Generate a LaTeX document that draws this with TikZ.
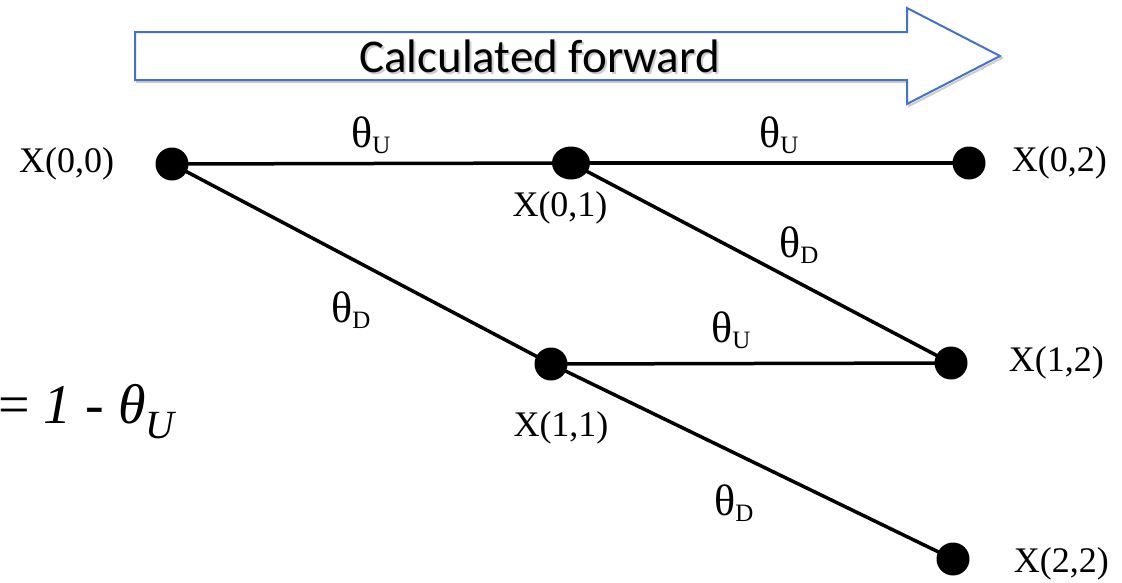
\documentclass[tikz,border=0pt]{standalone}
\usepackage{fontspec}
\setmainfont{Liberation Serif}
\newfontfamily\bannerfont{Carlito}
\usetikzlibrary{positioning, shapes.geometric}
\definecolor{ArrowBlue}{RGB}{68, 114, 196}
\definecolor{ShadowGrey}{RGB}{205, 205, 205}
\newcommand{\thlab}[1]{{\fontsize{44}{44}\selectfont θ}\raisebox{-6pt}{\fontsize{25}{25}\selectfont #1}}

\begin{document}
\begin{tikzpicture}[
    x=1pt, y=-1pt,
    dotnode/.style={circle, fill=black, inner sep=0pt, minimum size=33pt},
    statelabel/.style={inner sep=0pt, font=\fontsize{36}{36}\selectfont},
    problabel/.style={inner sep=0pt, anchor=base west},
    edgestyle/.style={line width=3.5pt, black}
]
    \useasboundingbox (0,0) rectangle (1122,582);

    % Banner arrow
    \draw [ShadowGrey, line width=2pt, shift={(2,2)}] (135,32) -- (907,32) -- (907,8) -- (1000,56) -- (907,104) -- (907,80) -- (135,80) -- cycle;
    \draw [ArrowBlue, line width=2pt, fill=white] (135,32) -- (907,32) -- (907,8) -- (1000,56) -- (907,104) -- (907,80) -- (135,80) -- cycle;
    \node (fwdshadow) [problabel, ShadowGrey, font=\bannerfont\fontsize{47}{47}\selectfont] at (361,74) {Calculated forward};
    \node (fwd) [problabel, font=\bannerfont\fontsize{47}{47}\selectfont] at (359,72) {Calculated forward};

    % Lattice points
    \node (x00) [dotnode] at (172,164) {};
    \node (x01) [dotnode, ellipse, minimum width=38pt, minimum height=33pt] at (571,163) {};
    \node (x02) [dotnode] at (969,163) {};
    \node (x11) [dotnode] at (551,364) {};
    \node (x12) [dotnode] at (951,363) {};
    \node (x22) [dotnode] at (953,559) {};

    % Point labels
    \node (lx00) [statelabel, left=41pt of x00] {X(0,0)};
    \node (lx01) [statelabel, below=12pt of x01, xshift=-11pt] {X(0,1)};
    \node (lx02) [statelabel, right=26pt of x02] {X(0,2)};
    \node (lx11) [statelabel, below=31pt of x11, xshift=10pt] {X(1,1)};
    \node (lx12) [statelabel, right=41pt of x12] {X(1,2)};
    \node (lx22) [statelabel, right=44pt of x22, yshift=-5pt] {X(2,2)};

    % Branches
    \draw [edgestyle] (x00.center) -- (x01.center);
    \draw [edgestyle] (x01.center) -- (x02.center);
    \draw [edgestyle] (x00.center) -- (x11.center);
    \draw [edgestyle] (x01.center) -- (x12.center);
    \draw [edgestyle] (x11.center) -- (x12.center);
    \draw [edgestyle] (x11.center) -- (x22.center);

    % Branch probabilities
    \node (pu1) [problabel] at (351,147) {\thlab{U}};
    \node (pu2) [problabel] at (759,147) {\thlab{U}};
    \node (pd1) [problabel] at (331,322) {\thlab{D}};
    \node (pd2) [problabel] at (779,257) {\thlab{D}};
    \node (pu3) [problabel] at (711,342) {\thlab{U}};
    \node (pd3) [problabel] at (714,515) {\thlab{D}};

    % Relation
    \node (rel) [problabel, font=\fontsize{56}{56}\selectfont] at (-2,423) {= \textit{1} - \textit{θ}\raisebox{-15pt}{\fontsize{40}{40}\selectfont\itshape U}};
\end{tikzpicture}
\end{document}
